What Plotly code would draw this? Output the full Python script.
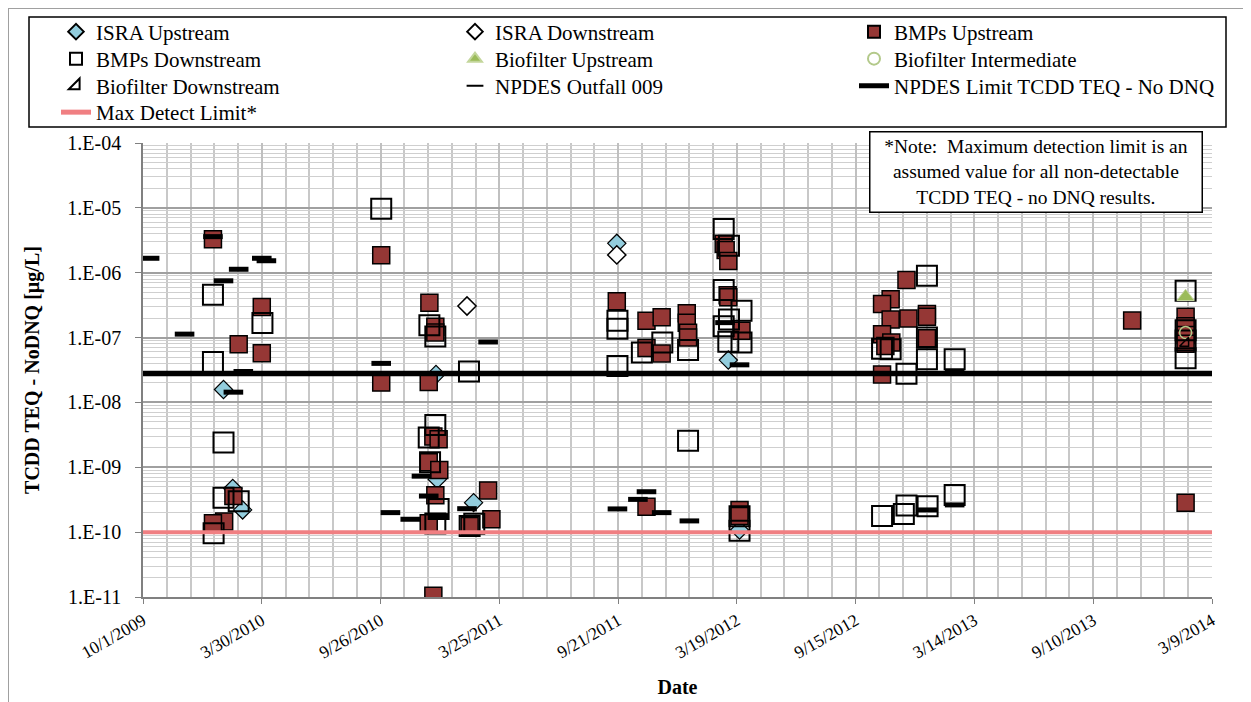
import plotly.graph_objects as go

# ---------------- data ----------------
isra_up_dates = ["2010-01-31", "2010-02-14", "2010-03-01", "2010-12-19", "2010-12-21",
                 "2011-02-14", "2011-09-19", "2012-03-06", "2012-03-23"]
isra_up_vals = [1.58e-8, 4.7e-10, 2.2e-10, 2.7e-8, 6.5e-10,
                2.85e-10, 2.84e-6, 4.5e-8, 1.08e-10]

isra_dn_dates = ["2011-02-04", "2011-09-19"]
isra_dn_vals = [3.07e-7, 1.88e-6]

bmp_up_dates = ["2010-01-15", "2010-02-23", "2010-03-30", "2010-03-30", "2010-02-15",
                "2010-02-01", "2010-01-15", "2010-09-27", "2010-09-27", "2010-12-09",
                "2010-12-18", "2010-12-18", "2010-12-08", "2010-12-15", "2010-12-23",
                "2010-12-08", "2010-12-24", "2010-12-18", "2010-12-08", "2010-12-15",
                "2011-03-08", "2011-03-13", "2011-02-08", "2011-09-19", "2011-11-03",
                "2011-11-26", "2011-11-03", "2011-11-26", "2012-01-03", "2012-01-03",
                "2012-01-05", "2012-01-05", "2011-11-03", "2012-02-28", "2012-03-02",
                "2012-03-06", "2012-03-05", "2012-03-06", "2012-03-26", "2012-03-23",
                "2012-03-23", "2012-12-01", "2012-11-07", "2012-10-25", "2012-12-04",
                "2012-11-07", "2013-01-01", "2013-01-01", "2013-01-01", "2012-10-25",
                "2012-11-08", "2012-10-30", "2012-10-25", "2013-11-08", "2014-01-28",
                "2014-01-28", "2014-01-28", "2014-01-28", "2014-01-28"]
bmp_up_vals = [3.27e-6, 7.9e-8, 2.96e-7, 5.75e-8, 3.6e-10,
               1.46e-10, 1.37e-10, 1.86e-6, 2.02e-8, 3.45e-7,
               1.47e-7, 1.2e-7, 2.07e-8, 2.97e-9, 2.7e-9,
               1.2e-9, 9.1e-10, 3.7e-10, 1.37e-10, 1.05e-11,
               4.4e-10, 1.58e-10, 1.24e-10, 3.64e-7, 1.82e-7,
               2.06e-7, 6.9e-8, 5.7e-8, 2.37e-7, 1.7e-7,
               1.19e-7, 1.0e-7, 2.47e-10, 2.8e-6, 2.24e-6,
               1.51e-6, 4.5e-7, 4.2e-7, 1.27e-7, 2.2e-10,
               1.77e-10, 7.7e-7, 3.9e-7, 3.3e-7, 1.97e-7,
               1.9e-7, 2.3e-7, 2.1e-7, 9.8e-8, 1.13e-7,
               8.4e-8, 7.4e-8, 2.7e-8, 1.83e-7, 2.1e-7,
               1.5e-7, 1.1e-7, 8.0e-8, 2.85e-10]

bmp_dn_dates = ["2010-01-15", "2010-03-31", "2010-01-15", "2010-01-31", "2010-01-31",
                "2010-02-23", "2010-01-16", "2010-09-27", "2010-12-09", "2010-12-18",
                "2011-02-07", "2010-12-18", "2010-12-08", "2010-12-10", "2010-12-23",
                "2010-12-18", "2011-02-08", "2011-02-15", "2011-09-20", "2011-09-20",
                "2011-09-20", "2011-11-27", "2011-10-27", "2012-01-05", "2012-01-05",
                "2012-02-28", "2012-03-07", "2012-02-28", "2012-03-26", "2012-03-07",
                "2012-02-28", "2012-03-06", "2012-03-26", "2012-03-23", "2012-03-23",
                "2013-01-01", "2012-11-07", "2012-10-25", "2013-01-01", "2013-01-01",
                "2012-12-01", "2013-02-12", "2012-10-25", "2012-11-27", "2012-12-01",
                "2013-01-02", "2013-02-12", "2014-01-28", "2014-01-28", "2014-01-28",
                "2014-01-28"]
bmp_dn_vals = [4.57e-7, 1.68e-7, 4.2e-8, 2.41e-9, 3.4e-10,
               3.0e-10, 9.6e-11, 9.66e-6, 1.55e-7, 1.04e-7,
               3.0e-8, 4.5e-9, 2.88e-9, 1.2e-9, 2.28e-10,
               1.36e-10, 1.24e-10, 1.35e-10, 1.82e-7, 1.37e-7,
               3.65e-8, 8.4e-8, 5.9e-8, 6.45e-8, 2.57e-9,
               4.72e-6, 2.6e-6, 5.42e-7, 2.59e-7, 1.9e-7,
               1.5e-7, 8.6e-8, 8.4e-8, 1.76e-10, 1.05e-10,
               8.95e-7, 6.6e-8, 6.7e-8, 1.0e-7, 4.64e-8,
               2.77e-8, 4.64e-8, 1.78e-10, 1.9e-10, 2.58e-10,
               2.5e-10, 3.74e-10, 5.27e-7, 1.3e-7, 9.0e-8,
               4.8e-8]

bio_up_dates = ["2014-01-28"]
bio_up_vals = [4.26e-7]

bio_int_dates = ["2014-01-28"]
bio_int_vals = [1.2e-7]

bio_dn_dates = ["2014-01-28"]
bio_dn_vals = [8.2e-8]

npdes_dates = ["2009-10-11", "2009-12-03", "2010-01-15", "2010-01-31", "2010-02-23",
               "2010-03-30", "2010-04-06", "2010-03-02", "2010-02-15", "2010-09-27",
               "2011-03-08", "2010-10-11", "2010-11-10", "2010-11-27", "2010-12-08",
               "2010-12-23", "2011-02-04", "2011-09-20", "2011-10-21", "2011-11-03",
               "2011-11-26", "2012-01-07", "2012-03-23", "2011-09-19", "2013-01-02",
               "2013-02-12", "2013-02-12", "2012-03-01"]
npdes_vals = [1.67e-6, 1.13e-7, 3.6e-6, 7.5e-7, 1.13e-6,
              1.67e-6, 1.53e-6, 3.0e-8, 1.44e-8, 4.0e-8,
              8.55e-8, 2.0e-10, 1.58e-10, 7.3e-10, 3.6e-10,
              1.8e-10, 2.3e-10, 2.28e-10, 3.2e-10, 4.2e-10,
              2.0e-10, 1.49e-10, 3.8e-8, 2.7e-8, 2.2e-10,
              2.63e-10, 2.9e-8, 1.7e-7]

axis_dates = ["2009-10-01", "2014-03-09"]
npdes_limit = 2.8e-8
max_detect = 1.0e-10

y_tickvals = [1e-11, 1e-10, 1e-9, 1e-8, 1e-7, 1e-6, 1e-5, 1e-4]
y_ticktext = ["1.E-11", "1.E-10", "1.E-09", "1.E-08", "1.E-07", "1.E-06", "1.E-05", "1.E-04"]

note_text = ("*Note:  Maximum detection limit is an<br>assumed value for all non-detectable"
             "<br>TCDD TEQ - no DNQ results.")

# ---------------- figure ----------------
FONT = "Liberation Serif, Times New Roman, serif"
DAY = 86400000
W, H = 1251, 702
ML, MT, PW, PH = 135, 135, 1069, 454   # plot area (page is offset by body margin)
OFF = 8


def px_x(xs):  # screenshot pixel -> paper fraction
    return (xs - (ML + OFF)) / PW


def px_y(ys):
    return 1 + ((MT + OFF) - ys) / PH


fig = go.Figure()

# legend slots: text-start x, row centre y (screenshot pixels)
col_x = [96, 495, 894]
row_y = [32, 59, 86, 112.5]
slots = [(col_x[i % 3], row_y[i // 3]) for i in range(10)]

traces = [
    dict(x=isra_up_dates, y=isra_up_vals, mode="markers", name="ISRA Upstream",
         marker=dict(symbol="diamond", size=14, color="#93CDDD", line=dict(color="black", width=1.2))),
    dict(x=isra_dn_dates, y=isra_dn_vals, mode="markers", name="ISRA Downstream",
         marker=dict(symbol="diamond", size=14, color="white", line=dict(color="black", width=1.5))),
    dict(x=bmp_up_dates, y=bmp_up_vals, mode="markers", name="BMPs Upstream",
         marker=dict(symbol="square", size=17, color="#953735", line=dict(color="black", width=1.5))),
    dict(x=bmp_dn_dates, y=bmp_dn_vals, mode="markers", name="BMPs Downstream",
         marker=dict(symbol="square-open", size=20, color="black", line=dict(color="black", width=2))),
    dict(x=bio_up_dates, y=bio_up_vals, mode="markers", name="Biofilter Upstream",
         marker=dict(symbol="triangle-up", size=15, color="#9BBB59", line=dict(color="#C3D69B", width=1))),
    dict(x=bio_int_dates, y=bio_int_vals, mode="markers", name="Biofilter Intermediate",
         marker=dict(symbol="circle-open", size=12, color="#B3C98A", line=dict(color="#B3C98A", width=1.5))),
    dict(x=bio_dn_dates, y=bio_dn_vals, mode="markers", name="Biofilter Downstream",
         marker=dict(symbol="triangle-se-open", size=10, color="black", line=dict(color="black", width=1.5))),
    dict(x=npdes_dates, y=npdes_vals, mode="markers", name="NPDES Outfall 009",
         marker=dict(symbol="line-ew", size=14, color="black", line=dict(color="black", width=5))),
    dict(x=axis_dates, y=[npdes_limit] * 2, mode="lines", name="NPDES Limit TCDD TEQ - No DNQ",
         line=dict(color="black", width=5.5)),
    dict(x=axis_dates, y=[max_detect] * 2, mode="lines", name="Max Detect Limit*",
         line=dict(color="#F07F82", width=4)),
]

legend_layouts = {}
for i, t in enumerate(traces):
    lid = "legend" if i == 0 else "legend%d" % (i + 1)
    fig.add_trace(go.Scatter(legend=lid, **t))
    tx, ty = slots[i]
    legend_layouts[lid] = dict(
        orientation="h", x=px_x(tx - 40), xanchor="left", y=px_y(ty), yanchor="middle",
        bgcolor="rgba(0,0,0,0)", borderwidth=0, itemsizing="constant",
        font=dict(family=FONT, size=21, color="black"))

fig.update_layout(
    width=W, height=H,
    margin=dict(l=ML, r=W - ML - PW, t=MT, b=H - MT - PH, autoexpand=False),
    paper_bgcolor="white", plot_bgcolor="white",
    font=dict(family=FONT, size=20, color="black"),
    showlegend=True,
    xaxis=dict(
        type="date", range=axis_dates,
        tick0="2009-10-01", dtick=180 * DAY, tickformat="%-m/%-d/%Y", tickangle=-30,
        ticks="outside", ticklen=5, tickcolor="#808080",
        showline=True, linecolor="#808080", linewidth=1.5,
        showgrid=True, gridcolor="#c0c0c0", gridwidth=1.5,
        minor=dict(dtick=36 * DAY, tick0="2009-10-01", showgrid=True,
                   gridcolor="#c8c8c8", gridwidth=1.5),
        tickfont=dict(family=FONT, size=17.5),
        title=dict(text="<b>Date</b>", font=dict(family=FONT, size=20), standoff=18),
        zeroline=False,
    ),
    yaxis=dict(
        type="log", range=[-11, -4],
        tickvals=y_tickvals, ticktext=y_ticktext,
        ticks="outside", ticklen=6, tickcolor="#808080", ticklabelstandoff=10,
        showline=True, linecolor="#808080", linewidth=1.5,
        showgrid=True, gridcolor="#a0a0a0", gridwidth=2,
        minor=dict(dtick="D1", showgrid=True, gridcolor="#cfcfcf", gridwidth=1),
        tickfont=dict(family=FONT, size=20),
        title=dict(text="<b>TCDD TEQ - NoDNQ [µg/L]</b>", font=dict(family=FONT, size=20),
                   standoff=22),
        zeroline=False,
    ),
    **legend_layouts,
)

# legend frame
fig.add_shape(type="rect", xref="paper", yref="paper",
              x0=px_x(29), x1=px_x(1226), y0=px_y(127), y1=px_y(17),
              line=dict(color="black", width=1.5), fillcolor="white", layer="below")
# chart-area frame
fig.add_shape(type="rect", xref="paper", yref="paper",
              x0=px_x(8), x1=px_x(1248), y0=-0.4, y1=px_y(8),
              line=dict(color="#a0a0a0", width=2), layer="below")

fig.add_annotation(xref="paper", yref="paper", x=px_x(1035.5), y=px_y(171.5),
                   xanchor="center", yanchor="middle",
                   text=note_text, showarrow=False, align="center",
                   font=dict(family=FONT, size=19.5, color="black"),
                   bgcolor="white", bordercolor="black", borderwidth=1.5,
                   width=329, height=77)

fig.write_html("out.html")
